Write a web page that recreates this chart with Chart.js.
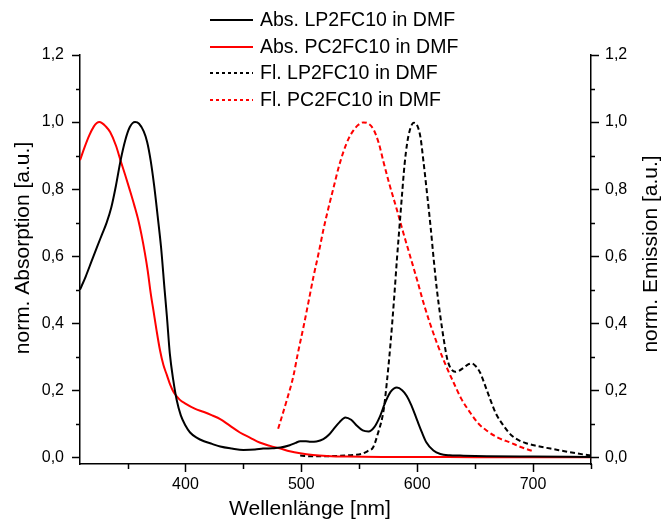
<!DOCTYPE html>
<html>
<head>
<meta charset="utf-8">
<title>Absorption / Emission</title>
<script src="https://cdn.jsdelivr.net/npm/chart.js"></script>
<style>
  html, body { margin: 0; padding: 0; background: #fff; }
  #wrap { width: 665px; height: 522px; }
</style>
</head>
<body>
<div id="wrap"><canvas id="chart" width="665" height="522"></canvas></div>
<script>
// Abs. LP2FC10 in DMF
const absLpX = [309, 314, 319, 324, 328, 332, 336, 340, 344, 348, 352, 356.5, 360, 364, 367, 370, 373, 376, 379, 382, 384, 386.5, 389.5, 392.5, 396, 400, 404, 410, 416, 423, 430, 440, 450, 460, 467, 475, 482, 490, 495, 499, 504, 508, 513, 519, 524, 528, 533, 538, 543, 548, 553, 558, 563, 568, 572, 577, 582.5, 587, 591, 595, 600, 604, 608, 614, 620, 628, 637, 660, 700, 750];
const absLpY = [0.50, 0.54, 0.585, 0.63, 0.665, 0.70, 0.745, 0.81, 0.885, 0.945, 0.985, 1.0, 0.995, 0.972, 0.94, 0.885, 0.81, 0.72, 0.625, 0.50, 0.42, 0.31, 0.23, 0.17, 0.125, 0.095, 0.074, 0.058, 0.048, 0.04, 0.032, 0.026, 0.022, 0.023, 0.026, 0.027, 0.029, 0.036, 0.043, 0.048, 0.048, 0.046, 0.047, 0.054, 0.068, 0.085, 0.105, 0.119, 0.112, 0.094, 0.08, 0.077, 0.09, 0.123, 0.16, 0.195, 0.208, 0.2, 0.183, 0.155, 0.11, 0.075, 0.044, 0.02, 0.01, 0.006, 0.005, 0.003, 0.002, 0.001];

// Abs. PC2FC10 in DMF
const absPcX = [309, 313, 317, 321, 323.5, 325.7, 328, 331, 335, 340, 344, 348, 352, 356, 359.5, 362, 365, 367.5, 370, 372.5, 375, 378, 381, 384, 387, 390, 395, 400, 408, 416, 423, 430, 438, 447, 456, 464, 473, 482, 490, 499, 510, 522, 540, 580, 650, 750];
const absPcY = [0.886, 0.925, 0.96, 0.987, 0.997, 1.0, 0.997, 0.988, 0.97, 0.93, 0.885, 0.842, 0.797, 0.75, 0.705, 0.665, 0.609, 0.555, 0.49, 0.435, 0.38, 0.32, 0.275, 0.245, 0.215, 0.193, 0.172, 0.16, 0.145, 0.135, 0.125, 0.114, 0.095, 0.074, 0.058, 0.044, 0.034, 0.026, 0.018, 0.012, 0.007, 0.004, 0.002, 0.001, 0.0005, 0];

// Fl. LP2FC10 in DMF
const flLpX = [499, 510, 520, 530, 545, 552, 557, 562, 566, 571, 574, 577, 580, 582.5, 585, 587, 589, 591.3, 594, 597, 600, 602.8, 605.5, 608.5, 611.5, 614.3, 617, 620, 623, 626, 629, 632.8, 636, 640, 644, 647, 651, 654.4, 658, 663, 668, 674.6, 680, 686, 694, 703, 715, 726, 737, 750];
const flLpY = [0.005, 0.003, 0.003, 0.004, 0.007, 0.01, 0.018, 0.03, 0.07, 0.14, 0.23, 0.34, 0.47, 0.59, 0.7, 0.787, 0.87, 0.936, 0.98, 0.998, 0.99, 0.955, 0.88, 0.787, 0.69, 0.589, 0.5, 0.42, 0.35, 0.292, 0.265, 0.255, 0.258, 0.267, 0.277, 0.28, 0.27, 0.252, 0.22, 0.173, 0.13, 0.094, 0.07, 0.054, 0.042, 0.034, 0.026, 0.019, 0.012, 0.005];

// Fl. PC2FC10 in DMF
const flPcX = [480, 487, 493, 497, 502, 506, 510.5, 515, 519, 523.5, 528, 532, 536.4, 541, 545, 549, 553.6, 558, 562.3, 567, 571, 576, 582.5, 588, 594, 600, 605.5, 611, 617, 624, 631.4, 638, 645.8, 653, 660.2, 670, 680.3, 690, 700];
const flPcY = [0.085, 0.165, 0.24, 0.31, 0.391, 0.46, 0.539, 0.61, 0.678, 0.745, 0.807, 0.862, 0.912, 0.952, 0.975, 0.991, 0.999, 0.995, 0.978, 0.935, 0.88, 0.815, 0.738, 0.67, 0.599, 0.528, 0.46, 0.4, 0.341, 0.28, 0.223, 0.175, 0.133, 0.1, 0.079, 0.058, 0.044, 0.03, 0.018];

const seriesLabels = ['Abs. LP2FC10 in DMF', 'Abs. PC2FC10 in DMF', 'Fl. LP2FC10 in DMF', 'Fl. PC2FC10 in DMF'];

// tick positions (major ticks get labels)
const xTicks = [350, 400, 450, 500, 550, 600, 650, 700, 750];
const yTicks = [0, 0.1, 0.2, 0.3, 0.4, 0.5, 0.6, 0.7, 0.8, 0.9, 1.0, 1.1, 1.2];

const xTitle = 'Wellenlänge [nm]';
const yTitle = 'norm. Absorption [a.u.]';
const y2Title = 'norm. Emission [a.u.]';

const FONT = "'Liberation Sans', Arial, sans-serif";

function toPoints(xs, ys) {
  return xs.map((x, i) => ({ x: x, y: ys[i] }));
}

function makeSet(label, xs, ys, color, dash) {
  return {
    label: label,
    data: toPoints(xs, ys),
    borderColor: color,
    backgroundColor: color,
    borderWidth: 2,
    borderDash: dash,
    pointRadius: 0,
    pointHoverRadius: 0,
    fill: false,
    showLine: true,
    cubicInterpolationMode: 'monotone',
    yAxisID: 'y',
  };
}

const datasets = [
  makeSet(seriesLabels[0], absLpX, absLpY, '#000000', []),
  makeSet(seriesLabels[1], absPcX, absPcY, '#ff0000', []),
  makeSet(seriesLabels[2], flLpX, flLpY, '#000000', [5, 3]),
  makeSet(seriesLabels[3], flPcX, flPcY, '#ff0000', [5, 3]),
];

const isMajorY = v => Math.round(v * 10) % 2 === 0;
const fmtY = v => isMajorY(v) ? v.toFixed(1).replace('.', ',') : '';

// outward major/minor ticks like the original plot
const tickMarks = {
  id: 'tickMarks',
  afterDraw(chart) {
    const ctx = chart.ctx;
    const { left, right, bottom } = chart.chartArea;
    const xs = chart.scales.x, ys = chart.scales.y;
    ctx.save();
    ctx.strokeStyle = '#000';
    ctx.lineWidth = 1.5;
    ctx.beginPath();
    xTicks.forEach(v => {
      const px = Math.round(xs.getPixelForValue(v)) + 0.5;
      const len = v % 100 === 0 ? 8 : 5;
      ctx.moveTo(px, bottom);
      ctx.lineTo(px, bottom + len);
    });
    yTicks.forEach(v => {
      const py = Math.round(ys.getPixelForValue(v)) + 0.5;
      const len = isMajorY(v) ? 8 : 4;
      ctx.moveTo(left, py);
      ctx.lineTo(left - len, py);
      ctx.moveTo(right, py);
      ctx.lineTo(right + len, py);
    });
    ctx.stroke();
    ctx.restore();
  }
};

// axis titles: both vertical titles read bottom-to-top
const axisTitles = {
  id: 'axisTitles',
  afterDraw(chart) {
    const ctx = chart.ctx;
    ctx.save();
    ctx.fillStyle = '#000';
    ctx.font = '21px ' + FONT;
    ctx.textAlign = 'center';
    ctx.textBaseline = 'middle';
    ctx.fillText(xTitle, 310, 509);
    [[yTitle, 23, 248], [y2Title, 651, 254]].forEach(([text, x, y]) => {
      ctx.save();
      ctx.translate(x, y);
      ctx.rotate(-Math.PI / 2);
      ctx.fillText(text, 0, 0);
      ctx.restore();
    });
    ctx.restore();
  }
};

// legend drawn at the top, overlapping the plot area
const topLegend = {
  id: 'topLegend',
  afterDraw(chart) {
    const ctx = chart.ctx;
    const rows = [20, 47, 73, 100];
    ctx.save();
    ctx.font = '19.5px ' + FONT;
    ctx.textBaseline = 'middle';
    chart.data.datasets.forEach((ds, i) => {
      const y = rows[i];
      ctx.strokeStyle = ds.borderColor;
      ctx.lineWidth = 2;
      ctx.setLineDash(ds.borderDash.length ? [3, 3] : []);
      ctx.beginPath();
      ctx.moveTo(210, y);
      ctx.lineTo(253, y);
      ctx.stroke();
      ctx.setLineDash([]);
      ctx.fillStyle = '#000';
      ctx.fillText(ds.label, 260, y + 1);
    });
    ctx.restore();
  }
};

const ctx = document.getElementById('chart').getContext('2d');
new Chart(ctx, {
  type: 'line',
  data: { datasets: datasets },
  plugins: [tickMarks, axisTitles, topLegend],
  options: {
    responsive: false,
    animation: false,
    events: [],
    layout: { padding: { top: 55, left: 0, right: 0, bottom: 0 } },
    plugins: {
      legend: { display: false },
      tooltip: { enabled: false },
    },
    scales: {
      x: {
        type: 'linear',
        position: 'bottom',
        min: 309,
        max: 750,
        afterBuildTicks: axis => { axis.ticks = xTicks.map(v => ({ value: v })); },
        afterFit: axis => { axis.height = 58; },
        border: { display: true, color: '#000', width: 1.5 },
        grid: { display: false, drawTicks: false },
        ticks: {
          padding: 11,
          maxRotation: 0,
          autoSkip: false,
          color: '#000',
          font: { family: FONT, size: 16 },
          callback: v => v % 100 === 0 ? String(v) : '',
        },
      },
      y: {
        type: 'linear',
        position: 'left',
        min: -0.02,
        max: 1.2,
        afterBuildTicks: axis => { axis.ticks = yTicks.map(v => ({ value: v })); },
        afterFit: axis => { axis.width = 80; },
        border: { display: true, color: '#000', width: 1.5 },
        grid: { display: false, drawTicks: false },
        ticks: {
          padding: 16,
          autoSkip: false,
          color: '#000',
          font: { family: FONT, size: 16 },
          callback: fmtY,
        },
      },
      y2: {
        type: 'linear',
        position: 'right',
        min: -0.02,
        max: 1.2,
        afterBuildTicks: axis => { axis.ticks = yTicks.map(v => ({ value: v })); },
        afterFit: axis => { axis.width = 74; },
        border: { display: true, color: '#000', width: 1.5 },
        grid: { display: false, drawTicks: false },
        ticks: {
          padding: 14,
          autoSkip: false,
          color: '#000',
          font: { family: FONT, size: 16 },
          callback: fmtY,
        },
      },
    },
  },
});
</script>
</body>
</html>
